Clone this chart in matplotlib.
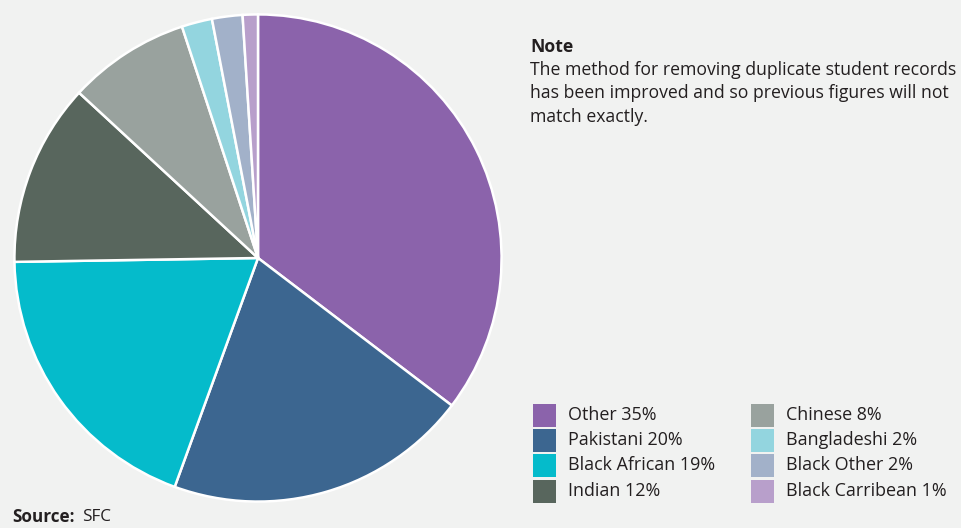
import matplotlib
matplotlib.use("Agg")
import matplotlib.pyplot as plt
from matplotlib.patches import Rectangle

categories = ["Other", "Pakistani", "Black African", "Indian", "Chinese",
              "Bangladeshi", "Black Other", "Black Carribean"]
shares = [35, 20, 19, 12, 8, 2, 2, 1]
colors = ["#8B63AB", "#3C6690", "#05BBCB", "#58665D", "#99A29E",
          "#93D5DF", "#A2B1C9", "#B89FCB"]

BG = "#F1F2F1"
TXT = "#231F20"
plt.rcParams["font.family"] = ["Open Sans", "DejaVu Sans"]

W, H = 962, 528
fig = plt.figure(figsize=(W / 100, H / 100), dpi=100, facecolor=BG)

# pie axes positioned in pixel terms
cx, cy, r = 258, 258, 246
ax = fig.add_axes([(cx - r) / W, (H - cy - r) / H, 2 * r / W, 2 * r / H])
ax.set_facecolor(BG)
wedges, _ = ax.pie(shares, colors=colors, startangle=90, counterclock=False,
                   radius=1.0,
                   wedgeprops=dict(edgecolor="white", linewidth=1.8))
ax.set_xlim(-1.01, 1.01)
ax.set_ylim(-1.01, 1.01)
ax.set_aspect("equal")
ax.axis("off")

# note
fig.text(530 / W, 1 - 47 / H, "Note", fontsize=12.7, fontweight="bold",
         color=TXT, va="center")
note_lines = ["The method for removing duplicate student records",
              "has been improved and so previous figures will not",
              "match exactly."]
for i, line in enumerate(note_lines):
    fig.text(530 / W, 1 - (70 + 23.5 * i) / H, line, fontsize=12.7,
             color=TXT, va="center")

# legend drawn as two columns of swatches
col_x = [533, 751]
row_y = [415, 440, 465, 491]
for i, (cat, val, col) in enumerate(zip(categories, shares, colors)):
    c, rw = divmod(i, 4)
    x0 = col_x[c]
    y0 = row_y[rw]
    fig.patches.append(Rectangle((x0 / W, 1 - (y0 + 11.5) / H), 23 / W, 23 / H,
                                 transform=fig.transFigure, facecolor=col,
                                 edgecolor="none"))
    fig.text((x0 + 35) / W, 1 - y0 / H, f"{cat} {val}%", fontsize=12.9,
             color=TXT, va="center")

# source line
fig.text(12 / W, 1 - 517 / H, "Source:", fontsize=12.3, fontweight="bold",
         color=TXT, va="center")
fig.text(82 / W, 1 - 517 / H, "SFC", fontsize=12.3, color=TXT, va="center")

fig.savefig("out.png", dpi=100, facecolor=BG)
